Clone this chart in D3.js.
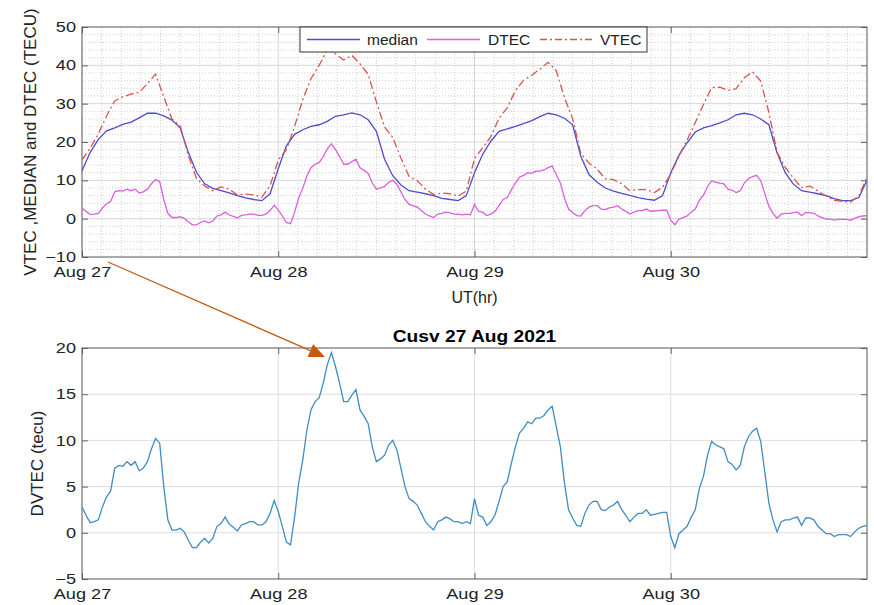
<!DOCTYPE html>
<html>
<head>
<meta charset="utf-8">
<script src="https://cdn.jsdelivr.net/npm/d3@7"></script>
<style>
html, body { margin: 0; padding: 0; background: #fff; }
svg { display: block; font-family: "Liberation Sans", Arial, Helvetica, sans-serif; }
</style>
</head>
<body>
<svg id="fig" width="874" height="605"></svg>
<script>
// Days shown on the time axis
const dayLabels = ["Aug 27", "Aug 28", "Aug 29", "Aug 30"];
const dayStarts = [Date.UTC(2021, 7, 27), Date.UTC(2021, 7, 28), Date.UTC(2021, 7, 29), Date.UTC(2021, 7, 30)];
const endTime = Date.UTC(2021, 7, 31);

// Hourly median TEC (TECU), Aug 27 00UT .. Aug 31 00UT
const medianTEC = [
  12.5, 17.3, 20.7, 22.9, 23.7, 24.6, 25.2, 26.3, 27.5, 27.5, 26.8, 25.7, 23.7, 17.3, 12.1, 9.1, 7.9, 7.3, 6.7, 6.0, 5.4, 5.0, 4.7, 6.5,
  13.0, 19.0, 22.0, 23.2, 24.1, 24.5, 25.4, 26.7, 27.1, 27.6, 27.1, 25.8, 22.8, 15.5, 11.2, 8.8, 7.3, 6.9, 6.5, 6.0, 5.3, 5.0, 4.7, 6.0,
  12.0, 16.8, 20.2, 22.8, 23.4, 24.1, 24.8, 25.6, 26.6, 27.5, 27.1, 26.2, 24.5, 16.3, 11.5, 9.5, 8.0, 7.2, 6.6, 6.1, 5.5, 5.1, 4.8, 6.0,
  12.0, 16.5, 19.8, 22.6, 23.7, 24.3, 25.0, 25.8, 27.1, 27.5, 27.1, 26.0, 24.5, 17.2, 12.0, 9.0, 7.3, 6.9, 6.5, 6.0, 5.2, 4.7, 4.7, 5.5,
  10.0
];

// Hourly VTEC (TECU)
const vtecTEC = [
  15.3, 18.4, 22.1, 26.8, 30.7, 31.8, 32.5, 33.0, 35.2, 37.7, 31.8, 26.0, 24.2, 16.5, 10.5, 8.5, 7.3, 8.3, 7.7, 6.2, 6.4, 6.2, 5.6, 8.6,
  15.3, 18.0, 24.1, 31.1, 36.5, 40.0, 44.0, 43.0, 41.4, 42.6, 40.4, 37.6, 30.5, 23.9, 21.2, 15.8, 11.0, 9.9, 7.7, 6.3, 6.7, 6.5, 5.9, 7.2,
  15.7, 18.5, 21.4, 26.2, 28.9, 33.4, 36.1, 37.4, 39.0, 40.8, 38.6, 31.6, 26.1, 17.0, 14.5, 12.9, 10.4, 10.2, 9.1, 7.3, 7.6, 7.6, 6.8, 8.2,
  11.6, 16.4, 20.5, 25.1, 29.8, 34.2, 34.3, 33.5, 33.9, 36.8, 38.3, 35.9, 27.7, 17.3, 13.4, 10.6, 8.1, 8.5, 7.2, 5.9, 4.8, 4.5, 4.3, 6.0,
  10.8
];

// Half-hourly DTEC / DVTEC (TECU)
const dtecTEC = [
  2.8, 1.9, 1.1, 1.2, 1.4, 2.8, 3.9, 4.5, 7.0, 7.3, 7.2, 7.7, 7.3, 7.7, 6.7, 7.0, 7.7, 9.1, 10.2, 9.7, 5.0, 1.4, 0.3, 0.3,
  0.5, 0.1, -0.8, -1.6, -1.6, -1.0, -0.6, -1.1, -0.6, 0.7, 1.0, 1.7, 0.95, 0.6, 0.2, 0.85, 1.0, 1.2, 1.2, 0.85, 0.85, 1.2, 2.1, 3.5,
  2.3, 0.7, -1.0, -1.3, 1.7, 5.4, 7.9, 11.1, 13.3, 14.2, 14.6, 16.2, 18.2, 19.5, 18.0, 16.2, 14.2, 14.2, 14.9, 15.5, 13.3, 12.6, 11.8, 9.3,
  7.7, 8.0, 8.4, 9.5, 10.0, 9.0, 7.0, 5.0, 3.7, 3.4, 3.0, 2.1, 1.2, 0.7, 0.3, 1.2, 1.4, 1.7, 1.5, 1.2, 1.2, 1.0, 1.2, 1.0,
  3.7, 1.9, 1.7, 0.8, 1.2, 1.9, 3.4, 5.0, 5.5, 7.5, 9.3, 10.8, 11.3, 12.0, 11.8, 12.4, 12.4, 12.7, 13.3, 13.7, 11.5, 9.3, 5.4, 2.5,
  1.6, 0.8, 0.7, 2.1, 3.0, 3.4, 3.4, 2.5, 2.4, 2.8, 3.0, 3.4, 2.5, 1.9, 1.2, 1.7, 2.1, 2.1, 2.5, 1.9, 2.0, 2.1, 2.2, 2.2,
  -0.4, -1.6, -0.1, 0.3, 0.7, 1.7, 2.5, 4.8, 6.1, 8.4, 9.9, 9.5, 9.3, 9.1, 7.7, 7.4, 6.8, 7.3, 9.3, 10.4, 11.0, 11.3, 9.9, 6.6,
  3.2, 1.4, 0.1, 1.2, 1.4, 1.4, 1.6, 1.7, 0.8, 1.6, 1.6, 1.4, 0.7, 0.3, -0.1, -0.1, -0.4, -0.2, -0.2, -0.2, -0.4, 0.1, 0.5, 0.7,
  0.8
];

const topTicks = [-10, 0, 10, 20, 30, 40, 50];
const bottomTicks = [-5, 0, 5, 10, 15, 20];

const seriesNames = ["median", "DTEC", "VTEC"];
const colors = { median: "#4c4ccc", DTEC: "#dc5fdc", VTEC: "#d9534f", DVTEC: "#3f8dc2", arrow: "#c55a11" };

const t0 = dayStarts[0];
const hourly = arr => arr.map((v, i) => ({ t: new Date(t0 + i * 3600e3), v }));
const halfHourly = arr => arr.map((v, i) => ({ t: new Date(t0 + i * 1800e3), v }));

const svg = d3.select("#fig");
const FONT = "\"Liberation Sans\", Arial, Helvetica, sans-serif";
const INK = "#222";
const STRETCH = 1.25;   // tick labels are drawn wide

const panelTop = { x0: 82, x1: 867, y0: 27, y1: 257 };
const panelBot = { x0: 82, x1: 867, y0: 348, y1: 579 };

function makeX(p) {
  return d3.scaleUtc().domain([new Date(t0), new Date(endTime)]).range([p.x0, p.x1]);
}

function styleAxis(g) {
  g.select(".domain").remove();
  g.selectAll(".tick line").attr("stroke", "#444").attr("stroke-width", 0.8);
  g.selectAll("text").attr("font-family", FONT).attr("font-size", 14.5).attr("fill", INK);
}

function drawFrame(p, x, y, yTicks, clipId) {
  const g = svg.append("g");
  const dayDates = dayStarts.map(d => new Date(d));
  g.append("g").attr("transform", `translate(0,${p.y1})`)
    .call(d3.axisBottom(x).tickValues(dayDates).tickFormat((d, i) => dayLabels[i]).tickSize(-6).tickPadding(10))
    .call(styleAxis)
    .call(a => a.selectAll("text").attr("transform", `scale(${STRETCH},1)`));
  g.append("g").attr("transform", `translate(0,${p.y0})`)
    .call(d3.axisTop(x).tickValues(dayDates).tickFormat("").tickSize(-6))
    .call(styleAxis);
  g.append("g").attr("transform", `translate(${p.x0},0)`)
    .call(d3.axisLeft(y).tickValues(yTicks).tickFormat(d3.format("d")).tickSize(-6).tickPadding(7))
    .call(styleAxis)
    .call(a => a.selectAll("text").attr("x", -6 / STRETCH).attr("transform", `scale(${STRETCH},1)`));
  g.append("g").attr("transform", `translate(${p.x1},0)`)
    .call(d3.axisRight(y).tickValues(yTicks).tickFormat("").tickSize(-6))
    .call(styleAxis);
  g.append("rect").attr("x", p.x0).attr("y", p.y0).attr("width", p.x1 - p.x0).attr("height", p.y1 - p.y0)
    .attr("fill", "none").attr("stroke", "#555").attr("stroke-width", 1);

  svg.append("clipPath").attr("id", clipId).append("rect")
    .attr("x", p.x0).attr("y", p.y0).attr("width", p.x1 - p.x0).attr("height", p.y1 - p.y0);
}

// ---------- upper panel: median, DTEC, VTEC ----------
{
  const p = panelTop;
  const x = makeX(p);
  const y = d3.scaleLinear().domain([-10, 50]).range([p.y1, p.y0]);
  const grid = svg.append("g");

  // minor grid (dotted)
  const minorX = [];
  dayStarts.forEach(d => { for (let k = 1; k < 10; k++) minorX.push(new Date(d + k * 8640e3)); });
  const minorY = d3.range(-8, 50, 2).filter(v => v % 10 !== 0);
  grid.selectAll(".mx").data(minorX).join("line")
    .attr("x1", d => x(d)).attr("x2", d => x(d)).attr("y1", p.y0).attr("y2", p.y1)
    .attr("stroke", "#c4c4c4").attr("stroke-width", 0.8).attr("stroke-dasharray", "1,2");
  grid.selectAll(".my").data(minorY).join("line")
    .attr("x1", p.x0).attr("x2", p.x1).attr("y1", d => y(d)).attr("y2", d => y(d))
    .attr("stroke", "#c4c4c4").attr("stroke-width", 0.8).attr("stroke-dasharray", "1,2");
  // major grid
  grid.selectAll(".gx").data(dayStarts.slice(1)).join("line")
    .attr("x1", d => x(new Date(d))).attr("x2", d => x(new Date(d))).attr("y1", p.y0).attr("y2", p.y1)
    .attr("stroke", "#d6d6d6").attr("stroke-width", 1);
  grid.selectAll(".gy").data(topTicks.slice(1, -1)).join("line")
    .attr("x1", p.x0).attr("x2", p.x1).attr("y1", d => y(d)).attr("y2", d => y(d))
    .attr("stroke", "#d6d6d6").attr("stroke-width", 1);

  drawFrame(p, x, y, topTicks, "clipTop");

  const line = d3.line().x(d => x(d.t)).y(d => y(d.v)).curve(d3.curveLinear);
  const lines = svg.append("g").attr("clip-path", "url(#clipTop)").attr("fill", "none");
  lines.append("path").datum(halfHourly(dtecTEC)).attr("d", line)
    .attr("stroke", colors.DTEC).attr("stroke-width", 1.3);
  lines.append("path").datum(hourly(medianTEC)).attr("d", line)
    .attr("stroke", colors.median).attr("stroke-width", 1.3);
  lines.append("path").datum(hourly(vtecTEC)).attr("d", line)
    .attr("stroke", colors.VTEC).attr("stroke-width", 1.3).attr("stroke-dasharray", "8,3,2,3");

  // legend
  const lg = svg.append("g");
  lg.append("rect").attr("x", 300).attr("y", 27).attr("width", 347).attr("height", 25)
    .attr("fill", "#fff").attr("stroke", "#333").attr("stroke-width", 1);
  const items = [
    { name: seriesNames[0], color: colors.median, dash: null, lx: 307, tx: 367 },
    { name: seriesNames[1], color: colors.DTEC, dash: null, lx: 427, tx: 488 },
    { name: seriesNames[2], color: colors.VTEC, dash: "7,3,2,3", lx: 540, tx: 600 }
  ];
  items.forEach(it => {
    lg.append("line").attr("x1", it.lx).attr("x2", it.lx + 53).attr("y1", 39.5).attr("y2", 39.5)
      .attr("stroke", it.color).attr("stroke-width", 1.3).attr("stroke-dasharray", it.dash);
    lg.append("text").attr("x", it.tx).attr("y", 45).attr("font-size", 15.5).attr("fill", INK).text(it.name);
  });

  svg.append("text").attr("x", (p.x0 + p.x1) / 2).attr("y", 303).attr("text-anchor", "middle")
    .attr("font-size", 16).attr("fill", INK).text("UT(hr)");
  svg.append("text").attr("transform", `translate(36,${(p.y0 + p.y1) / 2}) rotate(-90)`)
    .attr("text-anchor", "middle").attr("font-size", 17).attr("fill", INK)
    .text("VTEC ,MEDIAN and DTEC (TECU)");
}

// ---------- lower panel: DVTEC ----------
{
  const p = panelBot;
  const x = makeX(p);
  const y = d3.scaleLinear().domain([-5, 20]).range([p.y1, p.y0]);
  const grid = svg.append("g");
  grid.selectAll(".gx").data(dayStarts.slice(1)).join("line")
    .attr("x1", d => x(new Date(d))).attr("x2", d => x(new Date(d))).attr("y1", p.y0).attr("y2", p.y1)
    .attr("stroke", "#dedede").attr("stroke-width", 1);
  grid.selectAll(".gy").data(bottomTicks.slice(1, -1)).join("line")
    .attr("x1", p.x0).attr("x2", p.x1).attr("y1", d => y(d)).attr("y2", d => y(d))
    .attr("stroke", "#dedede").attr("stroke-width", 1);

  drawFrame(p, x, y, bottomTicks, "clipBot");

  const line = d3.line().x(d => x(d.t)).y(d => y(d.v));
  svg.append("g").attr("clip-path", "url(#clipBot)").append("path")
    .datum(halfHourly(dtecTEC)).attr("d", line)
    .attr("fill", "none").attr("stroke", colors.DVTEC).attr("stroke-width", 1.3);

  svg.append("text").attr("transform", `translate(${(p.x0 + p.x1) / 2},342) scale(1.2,1)`)
    .attr("text-anchor", "middle")
    .attr("font-size", 16).attr("font-weight", "bold").attr("fill", "#000").text("Cusv 27 Aug 2021");
  svg.append("text").attr("transform", `translate(43,${(p.y0 + p.y1) / 2}) rotate(-90)`)
    .attr("text-anchor", "middle").attr("font-size", 17).attr("fill", INK).text("DVTEC (tecu)");
}

// ---------- arrow from the upper panel to the DVTEC peak ----------
{
  const sx = 108, sy = 262, ex = 325, ey = 357;
  const ang = Math.atan2(ey - sy, ex - sx);
  const L = 16, Wd = 7;
  const bx = ex - L * Math.cos(ang), by = ey - L * Math.sin(ang);
  svg.append("line").attr("x1", sx).attr("y1", sy).attr("x2", bx).attr("y2", by)
    .attr("stroke", colors.arrow).attr("stroke-width", 1.3);
  const pts = [
    [ex, ey],
    [bx + Wd * Math.sin(ang), by - Wd * Math.cos(ang)],
    [bx - Wd * Math.sin(ang), by + Wd * Math.cos(ang)]
  ];
  svg.append("polygon").attr("points", pts.map(q => q.join(",")).join(" ")).attr("fill", colors.arrow);
}
</script>
</body>
</html>
